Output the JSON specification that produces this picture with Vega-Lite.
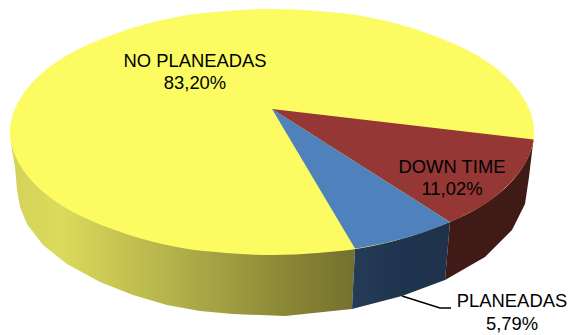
{"$schema":"https://vega.github.io/schema/vega-lite/v6.json","width":570,"height":335,"padding":0,"autosize":{"type":"fit","contains":"padding"},"background":"white","view":{"stroke":null},
"datasets":{
"sideY":[{"i":0,"x":10,"y":132},{"i":1,"x":12,"y":150},{"i":2,"x":15,"y":167},{"i":3,"x":17,"y":190},{"i":4,"x":20,"y":207},{"i":5,"x":27,"y":224},{"i":6,"x":43,"y":245},{"i":7,"x":67,"y":264},{"i":8,"x":100,"y":282},{"i":9,"x":133,"y":295},{"i":10,"x":167,"y":305},{"i":11,"x":200,"y":311},{"i":12,"x":233,"y":314},{"i":13,"x":285,"y":316},{"i":14,"x":352,"y":309},{"i":15,"x":355,"y":248.6}],
"sideB":[{"i":0,"x":450,"y":222},{"i":1,"x":445,"y":280},{"i":2,"x":402,"y":296},{"i":3,"x":352,"y":309},{"i":4,"x":355,"y":248.6}],
"sideR":[{"i":0,"x":533.5,"y":139.5},{"i":1,"x":531,"y":160},{"i":2,"x":529,"y":177},{"i":3,"x":525,"y":204},{"i":4,"x":512,"y":230},{"i":5,"x":485,"y":257},{"i":6,"x":445,"y":280},{"i":7,"x":450,"y":222}],
"top":[{"i":0,"x":534,"y":132},{"i":1,"x":530,"y":153},{"i":2,"x":518,"y":174},{"i":3,"x":499,"y":193.5},{"i":4,"x":473,"y":211},{"i":5,"x":440,"y":226},{"i":6,"x":403,"y":238.5},{"i":7,"x":362,"y":248},{"i":8,"x":317.5,"y":253},{"i":9,"x":272,"y":255},{"i":10,"x":226.5,"y":253},{"i":11,"x":182,"y":248},{"i":12,"x":141,"y":238.5},{"i":13,"x":104,"y":226},{"i":14,"x":71,"y":211},{"i":15,"x":45,"y":193.5},{"i":16,"x":26,"y":174},{"i":17,"x":14,"y":153},{"i":18,"x":10,"y":132},{"i":19,"x":14,"y":111},{"i":20,"x":26,"y":90},{"i":21,"x":45,"y":70.5},{"i":22,"x":71,"y":53},{"i":23,"x":104,"y":38},{"i":24,"x":141,"y":25.5},{"i":25,"x":182,"y":16},{"i":26,"x":226.5,"y":11},{"i":27,"x":272,"y":9},{"i":28,"x":317.5,"y":11},{"i":29,"x":362,"y":16},{"i":30,"x":403,"y":25.5},{"i":31,"x":440,"y":38},{"i":32,"x":473,"y":53},{"i":33,"x":499,"y":70.5},{"i":34,"x":518,"y":90},{"i":35,"x":530,"y":111}],
"wedgeR":[{"i":0,"x":272,"y":109},{"i":1,"x":533.5,"y":139.5},{"i":2,"x":533,"y":143},{"i":3,"x":530,"y":153},{"i":4,"x":525,"y":164},{"i":5,"x":518,"y":174},{"i":6,"x":509,"y":184},{"i":7,"x":499,"y":193.5},{"i":8,"x":487,"y":203},{"i":9,"x":473,"y":211},{"i":10,"x":457,"y":219},{"i":11,"x":450,"y":222}],
"wedgeB":[{"i":0,"x":272,"y":109},{"i":1,"x":450,"y":222},{"i":2,"x":440,"y":226},{"i":3,"x":422,"y":233},{"i":4,"x":403,"y":238.5},{"i":5,"x":383,"y":243.5},{"i":6,"x":362,"y":247.5},{"i":7,"x":355,"y":248.6}],
"leader":[{"i":0,"x":402,"y":296},{"i":1,"x":440,"y":308},{"i":2,"x":451,"y":308}],
"labels":[{"t":"NO PLANEADAS","x":195,"y":67},{"t":"83,20%","x":195,"y":89},{"t":"DOWN TIME","x":452,"y":173},{"t":"11,02%","x":452,"y":195},{"t":"PLANEADAS","x":512,"y":307},{"t":"5,79%","x":512,"y":330}]
},
"encoding":{"x":{"field":"x","type":"quantitative","axis":null,"scale":{"domain":[0,570],"nice":false,"zero":false}},"y":{"field":"y","type":"quantitative","axis":null,"scale":{"domain":[335,0],"nice":false,"zero":false}},"order":{"field":"i","type":"quantitative"}},
"layer":[
{"data":{"name":"sideY"},"mark":{"type":"line","filled":true,"stroke":null,"fill":{"gradient":"linear","x1":0,"y1":0,"x2":1,"y2":0,"stops":[{"offset":0,"color":"#d3d35a"},{"offset":0.15,"color":"#dada5c"},{"offset":0.5,"color":"#b0ae48"},{"offset":0.8,"color":"#8a8736"},{"offset":1,"color":"#747030"}]}}},
{"data":{"name":"sideB"},"mark":{"type":"line","filled":true,"stroke":null,"fill":{"gradient":"linear","x1":0,"y1":0,"x2":1,"y2":0,"stops":[{"offset":0,"color":"#253c58"},{"offset":0.5,"color":"#1f344e"},{"offset":1,"color":"#1e324b"}]}}},
{"data":{"name":"sideR"},"mark":{"type":"line","filled":true,"stroke":null,"fill":"#3f1a17"}},
{"data":{"name":"top"},"mark":{"type":"line","filled":true,"stroke":null,"fill":"#fcfc62","interpolate":"cardinal-closed"}},
{"data":{"name":"wedgeR"},"mark":{"type":"line","filled":true,"stroke":null,"fill":"#953735"}},
{"data":{"name":"wedgeB"},"mark":{"type":"line","filled":true,"stroke":null,"fill":"#4f81bd"}},
{"data":{"name":"leader"},"mark":{"type":"line","color":"#000000","strokeWidth":1.5}},
{"data":{"name":"labels"},"mark":{"type":"text","font":"Liberation Sans","fontSize":18.4,"color":"#000000","align":"center","baseline":"alphabetic"},"encoding":{"text":{"field":"t","type":"nominal"},"order":null}}
]}
